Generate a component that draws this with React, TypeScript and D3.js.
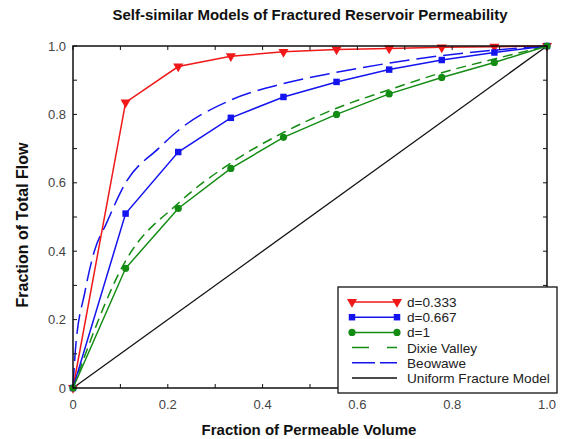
import React from 'react'
import * as d3 from 'd3'

// volume fractions where the model curves were sampled (1/9 steps)
const modelX = [0, 0.111, 0.222, 0.333, 0.444, 0.556, 0.667, 0.778, 0.889, 1.0]
const d333 = [0, 0.835, 0.94, 0.97, 0.983, 0.99, 0.993, 0.996, 0.998, 1.0]
const d667 = [0, 0.51, 0.69, 0.79, 0.851, 0.895, 0.931, 0.959, 0.981, 1.0]
const d1 = [0, 0.35, 0.525, 0.642, 0.733, 0.8, 0.86, 0.908, 0.952, 1.0]

const dixieX = [0, 0.111, 0.222, 0.333, 0.444, 0.556, 0.667, 0.778, 0.889, 1.0]
const dixieY = [0, 0.372, 0.54, 0.658, 0.747, 0.818, 0.872, 0.922, 0.962, 1.0]

const beowaweX = [0, 0.005, 0.025, 0.045, 0.07, 0.111, 0.18, 0.222, 0.333, 0.444, 0.556, 0.667, 0.778, 0.889, 1.0]
const beowaweY = [0, 0.11, 0.28, 0.4, 0.48, 0.6, 0.7, 0.753, 0.842, 0.89, 0.923, 0.95, 0.972, 0.988, 1.0]

const uniformX = [0, 1]
const uniformY = [0, 1]

const xTicks = [0, 0.2, 0.4, 0.6, 0.8, 1.0]
const yTicks = [0, 0.2, 0.4, 0.6, 0.8, 1.0]
const tickLabels = ['0', '0.2', '0.4', '0.6', '0.8', '1.0']
const minorTicks = d3.range(0, 11).map(i => i / 10)

const legendLabels = ['d=0.333', 'd=0.667', 'd=1', 'Dixie Valley', 'Beowawe', 'Uniform Fracture Model']

const RED = '#f01818'
const BLUE = '#1414ee'
const GREEN = '#148c14'

const W = 568
const H = 439
const margin = { top: 46, right: 21, bottom: 51, left: 73 }
const FONT = 'Liberation Sans, Arial, sans-serif'

export default function App() {
  const iw = W - margin.left - margin.right
  const ih = H - margin.top - margin.bottom
  const x = d3.scaleLinear().domain([0, 1]).range([0, iw])
  const y = d3.scaleLinear().domain([0, 1]).range([ih, 0])

  const line = d3.line<[number, number]>().x(d => x(d[0])).y(d => y(d[1]))
  const smooth = d3.line<[number, number]>().x(d => x(d[0])).y(d => y(d[1])).curve(d3.curveMonotoneX)

  const zip = (xs: number[], ys: number[]) => xs.map((v, i) => [v, ys[i]] as [number, number])

  const tri = d3.symbol().type(d3.symbolTriangle).size(44)()
  const sq = d3.symbol().type(d3.symbolSquare).size(42)()

  const marker = (kind: string, color: string, cx: number, cy: number, key: any) => {
    if (kind === 'tri')
      return <path key={key} d={tri!} transform={`translate(${cx},${cy}) rotate(180)`} fill={color} />
    if (kind === 'sq') return <path key={key} d={sq!} transform={`translate(${cx},${cy})`} fill={color} />
    return <circle key={key} cx={cx} cy={cy} r={3.6} fill={color} />
  }

  const models = [
    { ys: d333, color: RED, kind: 'tri' },
    { ys: d667, color: BLUE, kind: 'sq' },
    { ys: d1, color: GREEN, kind: 'circ' }
  ]

  // legend
  const lx = 338
  const ly = 287
  const lw = 219
  const lh = 106
  const rowY = (i: number) => ly + 15 + i * 15.2

  return (
    <svg width={W} height={H} style={{ position: 'absolute', left: 0, top: 0, background: '#fff' }} fontFamily={FONT}>
      <text x={margin.left + iw / 2} y={20} textAnchor="middle" fontSize={15} fontWeight="bold" fill="#111">
        Self-similar Models of Fractured Reservoir Permeability
      </text>
      <g transform={`translate(${margin.left},${margin.top})`}>
        {/* uniform */}
        <path d={line(zip(uniformX, uniformY))!} fill="none" stroke="#111" strokeWidth={1.3} />
        {/* field curves */}
        <path d={smooth(zip(dixieX, dixieY))!} fill="none" stroke={GREEN} strokeWidth={1.5} strokeDasharray="10,6" />
        <path d={smooth(zip(beowaweX, beowaweY))!} fill="none" stroke={BLUE} strokeWidth={1.5} strokeDasharray="20,7" />
        {models.map((m, mi) => (
          <g key={mi}>
            <path d={line(zip(modelX, m.ys))!} fill="none" stroke={m.color} strokeWidth={1.5} />
            {m.ys.map((v, i) => marker(m.kind, m.color, x(modelX[i]), y(v), i))}
          </g>
        ))}
        {/* frame */}
        <rect x={0} y={0} width={iw} height={ih} fill="none" stroke="#111" strokeWidth={1.5} />
        {minorTicks.map((t, i) => (
          <g key={i} stroke="#111" strokeWidth={1}>
            <line x1={x(t)} x2={x(t)} y1={ih} y2={ih - 4} />
            <line x1={x(t)} x2={x(t)} y1={0} y2={4} />
            <line x1={0} x2={4} y1={y(t)} y2={y(t)} />
            <line x1={iw} x2={iw - 4} y1={y(t)} y2={y(t)} />
          </g>
        ))}
        {xTicks.map((t, i) => (
          <text key={i} x={x(t)} y={ih + 21} textAnchor="middle" fontSize={13} fill="#444">
            {tickLabels[i]}
          </text>
        ))}
        {yTicks.map((t, i) => (
          <text key={i} x={-7} y={y(t) + 4.5} textAnchor="end" fontSize={13} fill="#444">
            {tickLabels[i]}
          </text>
        ))}
      </g>
      <text x={margin.left + iw / 2 - 1} y={435} textAnchor="middle" fontSize={15} fontWeight="bold" fill="#111">
        Fraction of Permeable Volume
      </text>
      <text
        transform={`translate(28,225) rotate(-90)`}
        textAnchor="middle"
        fontSize={16}
        fontWeight="bold"
        fill="#111"
      >
        Fraction of Total Flow
      </text>

      {/* legend */}
      <rect x={lx} y={ly} width={lw} height={lh} fill="#fff" stroke="#111" strokeWidth={1.3} />
      {legendLabels.map((lab, i) => {
        const cy = rowY(i)
        const x0 = lx + 14
        const x1 = lx + 59
        let stroke = '#111'
        let dash: string | undefined
        if (i < 3) stroke = models[i].color
        if (i === 3) {
          stroke = GREEN
          dash = '17,18'
        }
        if (i === 4) {
          stroke = BLUE
          dash = '23,5'
        }
        return (
          <g key={i}>
            <line x1={x0} x2={x1} y1={cy} y2={cy} stroke={stroke} strokeWidth={1.5} strokeDasharray={dash} />
            {i < 3 && marker(models[i].kind, stroke, x0, cy, 'a')}
            {i < 3 && marker(models[i].kind, stroke, x1, cy, 'b')}
            <text x={lx + 69} y={cy + 5} fontSize={13.6} fill="#222">
              {lab}
            </text>
          </g>
        )
      })}
    </svg>
  )
}
